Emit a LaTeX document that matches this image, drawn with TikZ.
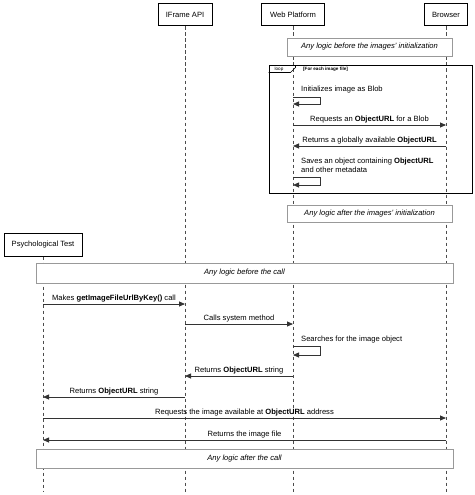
\documentclass[tikz,border=0pt]{standalone}
\usepackage{fontspec}
\setmainfont{Liberation Sans}
\usetikzlibrary{arrows.meta}
\begin{document}
\begin{tikzpicture}[x=1pt,y=-1pt,
  font=\fontsize{7.6}{9}\selectfont,
  actor/.style={draw=black, line width=1pt, fill=white, minimum height=22pt, inner xsep=4pt},
  life/.style={draw=black!70, dash pattern=on 3.5pt off 2.5pt, line width=0.7pt},
  note/.style={draw=black!40, line width=0.9pt, fill=white, inner sep=0pt, font=\fontsize{7.6}{9}\selectfont\itshape},
  msg/.style={-{Triangle[length=6pt,width=5pt]}, line width=0.8pt, draw=black!80},
  lbl/.style={above, inner sep=1.8pt},
  slbl/.style={anchor=west, inner sep=0pt},
  frame/.style={draw=black, line width=1pt, inner sep=0pt},
  tiny/.style={font=\fontsize{4.6}{5}\selectfont, inner sep=0pt}
]
\useasboundingbox (0,0) rectangle (474,495);

% actors
\node[actor, minimum width=54pt] (ifa) at (185,15) {IFrame API};
\node[actor, minimum width=63pt] (wp) at (293,15) {Web Platform};
\node[actor, minimum width=43pt] (br) at (446,15) {Browser};
\node[actor, minimum width=78pt, minimum height=23pt] (pt) at (43,244.5) {Psychological Test};

% lifeline ends
\coordinate (ifaE) at (185,492);
\coordinate (wpE) at (293,492);
\coordinate (brE) at (446,492);
\coordinate (ptE) at (43,492);
\draw[life] (ifa.south) -- (ifaE);
\draw[life] (wp.south) -- (wpE);
\draw[life] (br.south) -- (brE);
\draw[life] (pt.south) -- (ptE);

% notes
\node[note, minimum width=165pt, minimum height=18pt] (n1) at (369.5,47) {Any logic before the images' initialization};
\node[note, minimum width=165pt, minimum height=17pt] (n2) at (369.5,213.5) {Any logic after the images' initialization};
\node[note, minimum width=417pt, minimum height=20pt] (n3) at (244.5,273) {Any logic before the call};
\node[note, minimum width=417pt, minimum height=19pt] (n4) at (244.5,458.5) {Any logic after the call};

% loop frame
\node[frame, minimum width=203pt, minimum height=127pt] (loop) at (370.5,129.5) {};
\coordinate (tagA) at ([xshift=27pt]loop.north west);
\coordinate (tagB) at ([yshift=-7pt]loop.north west);
\draw[line width=0.7pt] (tagA) -- ++(0,2) -- ++(-5,5) -- (tagB);
\node[tiny, anchor=center] (looplbl) at (279,69.5) {loop};
\node[tiny, anchor=west] (cond) at (303,69.5) {\textbf{[For each image file]}};

% self message 1
\coordinate (s1a) at (293,97);
\coordinate (s1b) at (293,104);
\node[slbl] (t1) at (301,90) {Initializes image as Blob};
\draw[msg] (s1a) -- ++(27,0) |- (s1b);

% messages in loop
\coordinate (m1a) at (293,125);
\coordinate (m1b) at (446,125);
\draw[msg] (m1a) -- node[lbl] {Requests an \textbf{ObjectURL} for a Blob} (m1b);
\coordinate (m2a) at (446,146);
\coordinate (m2b) at (293,146);
\draw[msg] (m2a) -- node[lbl] {Returns a globally available \textbf{ObjectURL}} (m2b);

% self message 2
\node[slbl, anchor=north west, align=left] (t2) at (301,157.5) {Saves an object containing \textbf{ObjectURL}\\and other metadata};
\coordinate (s2a) at (293,177);
\coordinate (s2b) at (293,185);
\draw[msg] (s2a) -- ++(27,0) |- (s2b);

% call sequence
\coordinate (m3a) at (43,304);
\coordinate (m3b) at (185,304);
\draw[msg] (m3a) -- node[lbl] {Makes \textbf{getImageFileUrlByKey()} call} (m3b);
\coordinate (m4a) at (185,324);
\coordinate (m4b) at (293,324);
\draw[msg] (m4a) -- node[lbl] {Calls system method} (m4b);

\node[slbl] (t3) at (301,340) {Searches for the image object};
\coordinate (s3a) at (293,346);
\coordinate (s3b) at (293,355);
\draw[msg] (s3a) -- ++(27,0) |- (s3b);

\coordinate (m5a) at (293,376);
\coordinate (m5b) at (185,376);
\draw[msg] (m5a) -- node[lbl] {Returns \textbf{ObjectURL} string} (m5b);
\coordinate (m6a) at (185,397);
\coordinate (m6b) at (43,397);
\draw[msg] (m6a) -- node[lbl] {Returns \textbf{ObjectURL} string} (m6b);
\coordinate (m7a) at (43,418);
\coordinate (m7b) at (446,418);
\draw[msg] (m7a) -- node[lbl] {Requests the image available at \textbf{ObjectURL} address} (m7b);
\coordinate (m8a) at (446,440);
\coordinate (m8b) at (43,440);
\draw[msg] (m8a) -- node[lbl] {Returns the image file} (m8b);
\end{tikzpicture}
\end{document}
